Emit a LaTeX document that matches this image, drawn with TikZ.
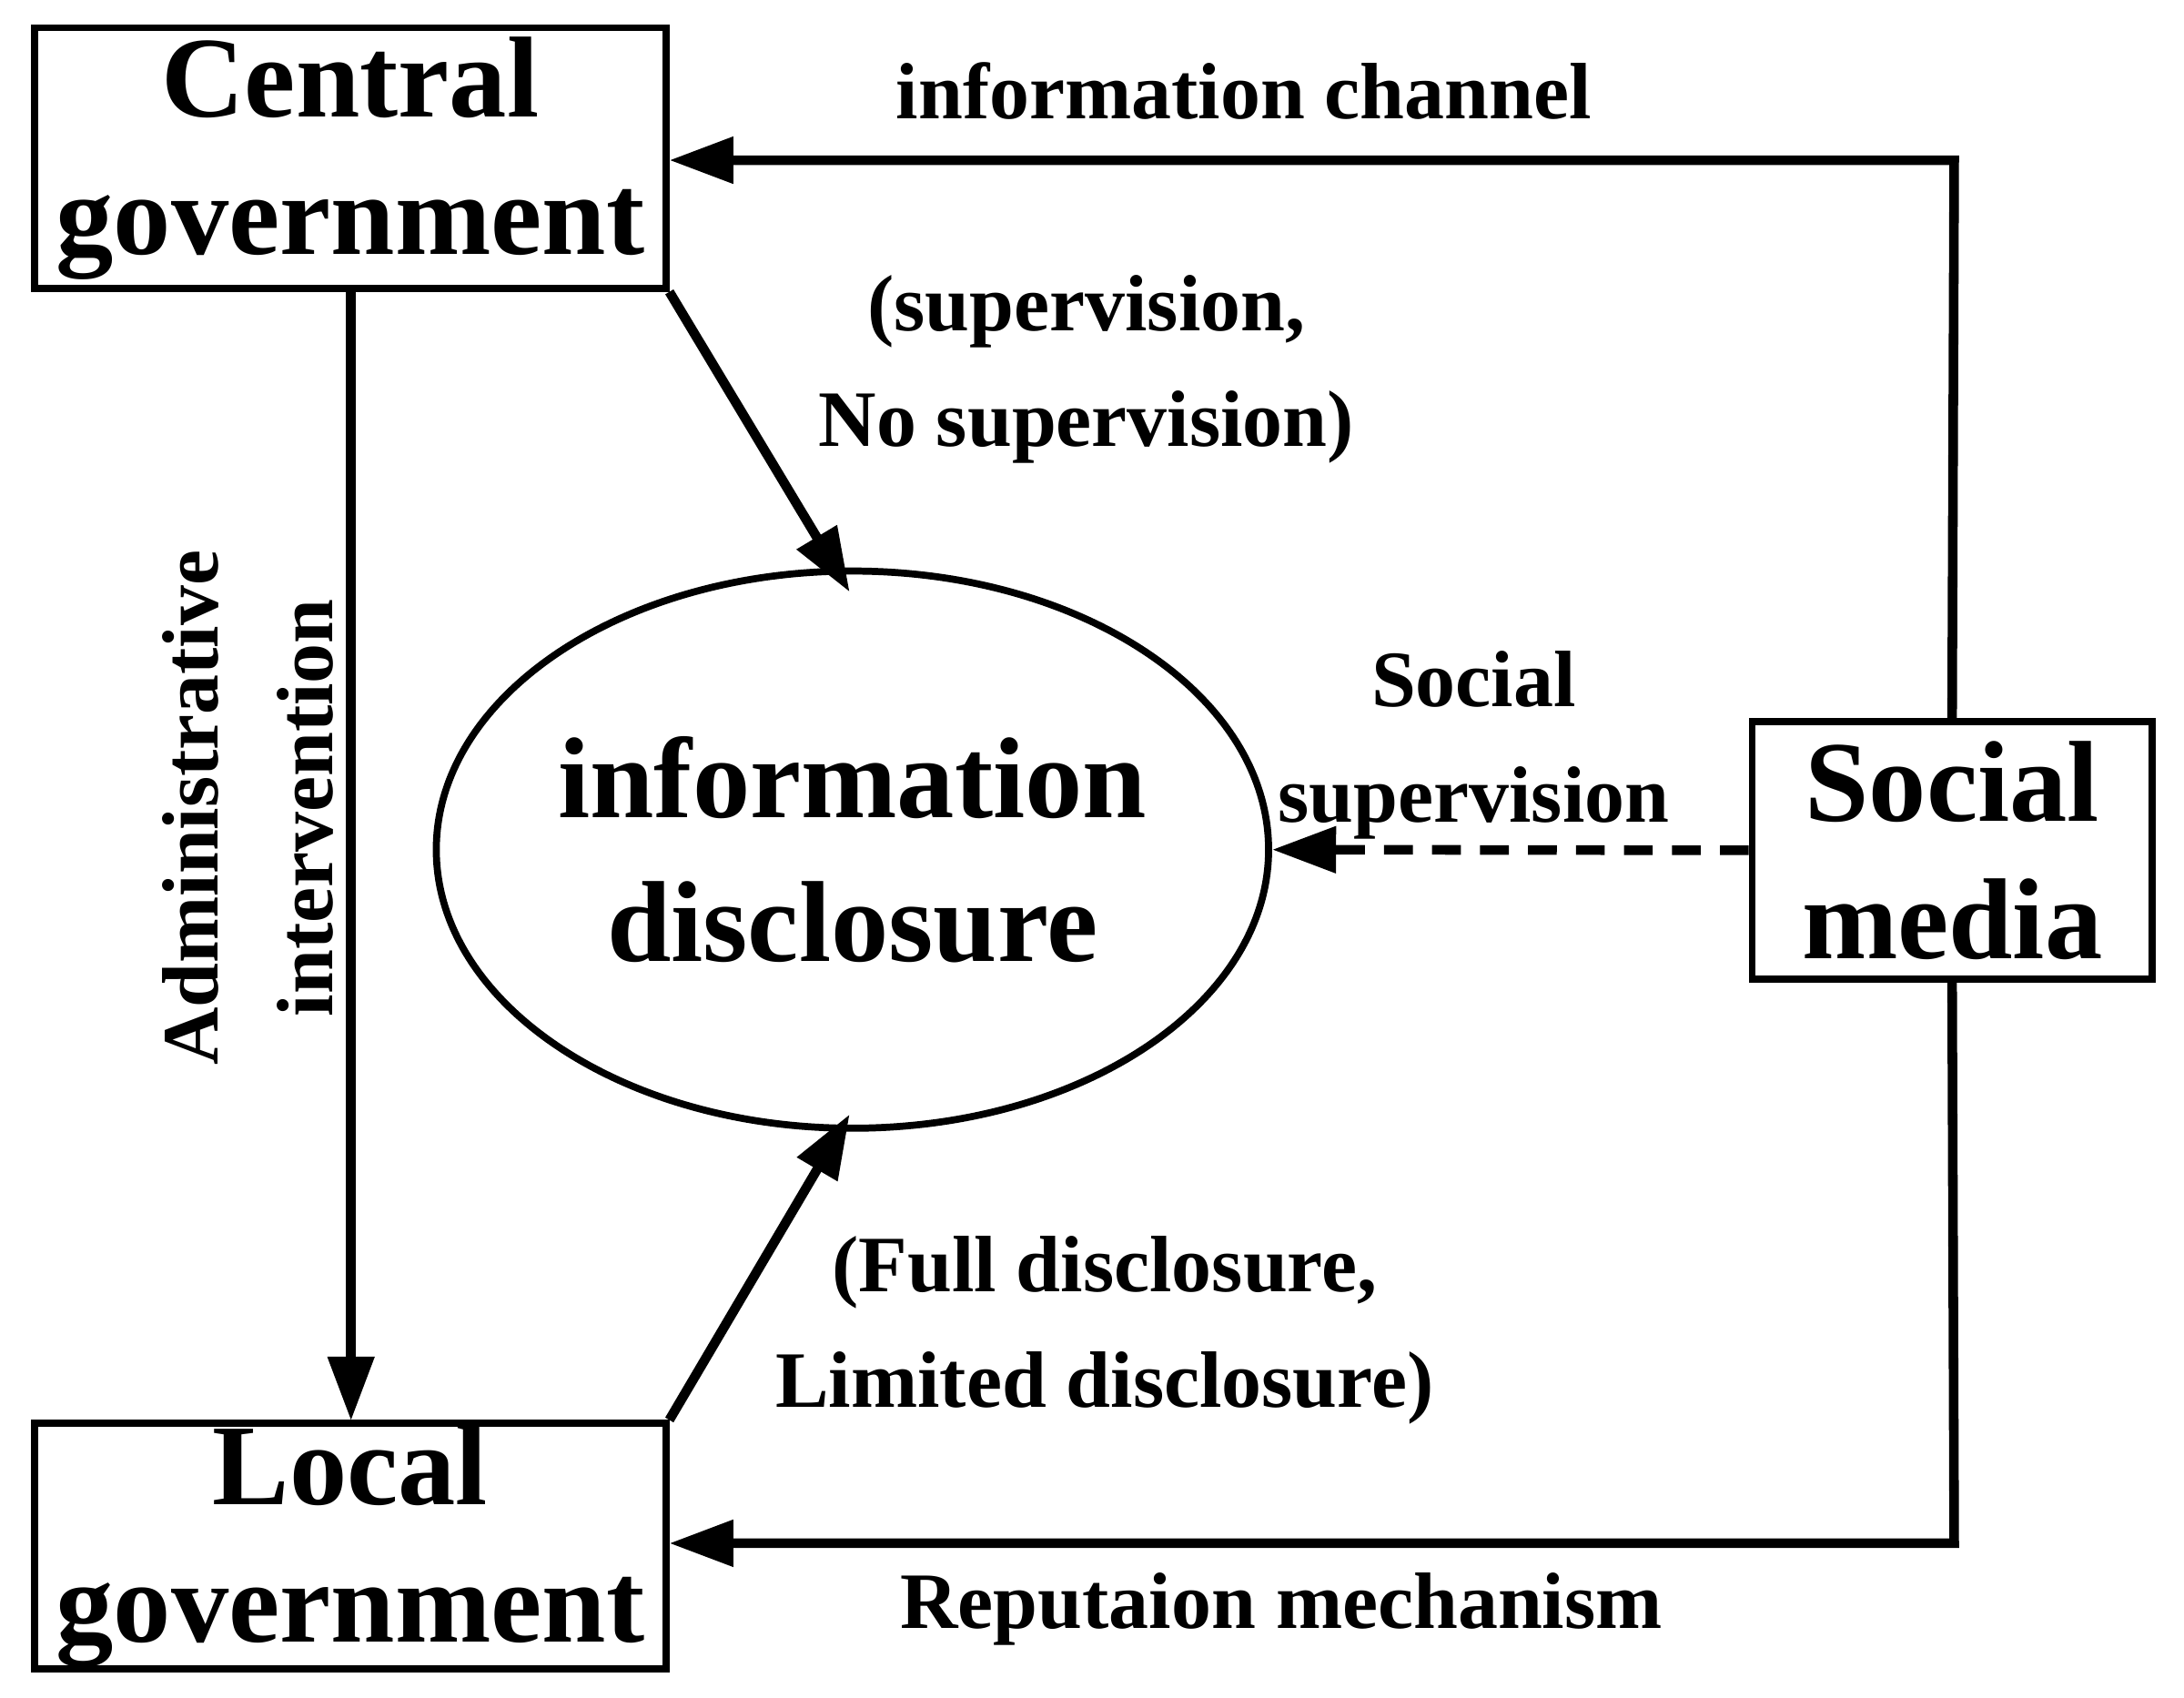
\documentclass[tikz,border=0pt]{standalone}
\usepackage{fontspec}
\setmainfont{Liberation Serif}
\usetikzlibrary{arrows.meta,shapes.geometric}
\begin{document}
\begin{tikzpicture}[x=0.015306cm,y=-0.015306cm,
 box/.style={draw,line width=2.2pt,inner sep=0pt,font=\fontsize{36}{43}\selectfont\bfseries,align=center},
 lab/.style={font=\fontsize{25}{36}\selectfont\bfseries,align=center},
 con/.style={line width=3pt,-{Triangle[length=20pt,width=14pt]}}]
\useasboundingbox (0,0) rectangle (1568,1219);
\node[box,minimum width=453*0.15306cm/10,minimum height=187*0.15306cm/10] (cg) at (251.5,113.5) {Central\\government};
\node[box,minimum width=453*0.15306cm/10,minimum height=176*0.15306cm/10] (lg) at (251.5,1110) {Local\\government};
\node[box,minimum width=287*0.15306cm/10,minimum height=185*0.15306cm/10] (sm) at (1401.5,610.5) {Social\\media};
\node[draw,line width=2.2pt,ellipse,minimum width=492*0.15306cm/10,minimum height=400*0.15306cm/10,inner sep=0pt,font=\fontsize{36}{45}\selectfont\bfseries,align=center] (id) at (612,610) {information\\disclosure};
\coordinate (c1) at (1403,115);
\coordinate (c2) at (1403,1108);
\draw[con] (cg.south east) -- (610,425);
\draw[con] (lg.north east) -- (610,800);
\draw[con] (252,207) -- (252,1020);
\draw[con] (sm.north) -- (c1) -- (cg.east|-c1);
\draw[con] (sm.south) -- (c2) -- (lg.east|-c2);
\draw[con,dashed,dash pattern=on 9pt off 6pt] (sm.west) -- (id.east);
\node[lab] (l1) at (893,65) {information channel};
\node[lab] (l2) at (780,265) {(supervision,\\No supervision)};
\node[lab] (l3) at (1058,535) {Social\\supervision};
\node[lab] (l4) at (793,955) {(Full disclosure,\\Limited disclosure)};
\node[lab] (l5) at (920,1155) {Reputaion mechanism};
\node[lab,rotate=90] (l6) at (178,580) {Administrative\\intervention};
\end{tikzpicture}
\end{document}
